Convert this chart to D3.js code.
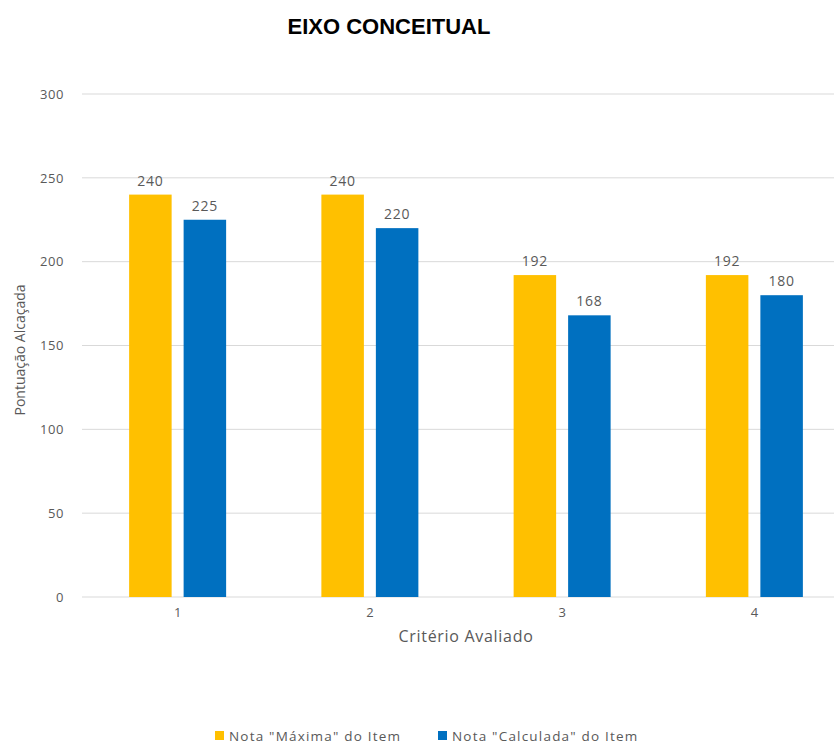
<!DOCTYPE html>
<html>
<head>
<meta charset="utf-8">
<title>Eixo Conceitual</title>
<script src="https://d3js.org/d3.v7.min.js"></script>
<style>
  body { margin: 0; background: #fff; }
  text { font-family: "Open Sans", sans-serif; fill: #595959; }
  .title { font-family: "Liberation Sans", sans-serif; font-weight: bold; fill: #000; }
</style>
</head>
<body>
<svg width="834" height="743"></svg>
<script>
// chart data
var categories = ["1", "2", "3", "4"];
var seriesNames = ["Nota \"Máxima\" do Item", "Nota \"Calculada\" do Item"];
var notaMaxima = [240, 240, 192, 192];
var notaCalculada = [225, 220, 168, 180];
var yTicks = [0, 50, 100, 150, 200, 250, 300];
var colors = ["#ffc000", "#0070c0"];

var svg = d3.select("svg");

var x = d3.scaleBand().domain(categories).range([81.5, 850.5]).paddingInner(0).paddingOuter(0);
var y = d3.scaleLinear().domain([0, 300]).range([597, 94]);
var xs = d3.scaleBand().domain([0, 1]).range([0, 97]).paddingInner(0.22);

// grid lines
svg.append("g").selectAll("line")
    .data(yTicks)
    .enter().append("line")
    .attr("x1", 82).attr("x2", 834)
    .attr("y1", d => y(d)).attr("y2", d => y(d))
    .attr("stroke", "#d9d9d9").attr("stroke-width", 1);

// y axis labels
var yAxis = svg.append("g")
    .attr("transform", "translate(64,0)")
    .call(d3.axisLeft(y).tickValues(yTicks).tickSize(0).tickPadding(0));
yAxis.select(".domain").remove();
yAxis.selectAll("text").attr("font-size", 13).attr("fill", "#595959")
    .attr("letter-spacing", 0.6)
    .attr("font-family", "Open Sans, sans-serif");

// x axis labels
var xAxis = svg.append("g")
    .attr("transform", "translate(0,608)")
    .call(d3.axisBottom(x).tickSize(0).tickPadding(0));
xAxis.select(".domain").remove();
xAxis.selectAll("text").attr("font-size", 13).attr("fill", "#595959")
    .attr("font-family", "Open Sans, sans-serif");

// bars
var rows = categories.map((c, i) => ({ cat: c, vals: [notaMaxima[i], notaCalculada[i]] }));
var group = svg.append("g").selectAll("g")
    .data(rows)
    .enter().append("g")
    .attr("transform", d => "translate(" + (x(d.cat) + x.bandwidth() / 2 - 48.5) + ",0)");

group.selectAll("rect")
    .data(d => d.vals.map((v, k) => ({ k: k, v: v })))
    .enter().append("rect")
    .attr("x", d => xs(d.k))
    .attr("width", xs.bandwidth())
    .attr("y", d => y(d.v))
    .attr("height", d => y(0) - y(d.v))
    .attr("fill", d => colors[d.k]);

group.selectAll("text")
    .data(d => d.vals.map((v, k) => ({ k: k, v: v })))
    .enter().append("text")
    .attr("x", d => xs(d.k) + xs.bandwidth() / 2)
    .attr("y", d => y(d.v) - 9)
    .attr("text-anchor", "middle")
    .attr("font-size", 14)
    .attr("letter-spacing", 0.8)
    .attr("fill", "#404040")
    .text(d => d.v);

// title
svg.append("text").attr("class", "title")
    .attr("x", 389).attr("y", 34)
    .attr("text-anchor", "middle")
    .attr("font-size", 22)
    .text("EIXO CONCEITUAL");

// axis titles
svg.append("text")
    .attr("x", 466).attr("y", 642)
    .attr("text-anchor", "middle")
    .attr("font-size", 16)
    .attr("letter-spacing", 0.7)
    .text("Critério Avaliado");

svg.append("text")
    .attr("transform", "translate(25,350) rotate(-90)")
    .attr("text-anchor", "middle")
    .attr("font-size", 14)
    .text("Pontuação Alcaçada");

// legend
var legendX = [215, 438];
var legend = svg.append("g").selectAll("g")
    .data(seriesNames)
    .enter().append("g")
    .attr("transform", (d, i) => "translate(" + legendX[i] + ",731)");
legend.append("rect")
    .attr("width", 9).attr("height", 9)
    .attr("y", 0)
    .attr("fill", (d, i) => colors[i]);
legend.append("text")
    .attr("x", 14).attr("y", 9.5)
    .attr("font-size", 13.5)
    .attr("letter-spacing", 1.2)
    .text(d => d);
</script>
</body>
</html>
